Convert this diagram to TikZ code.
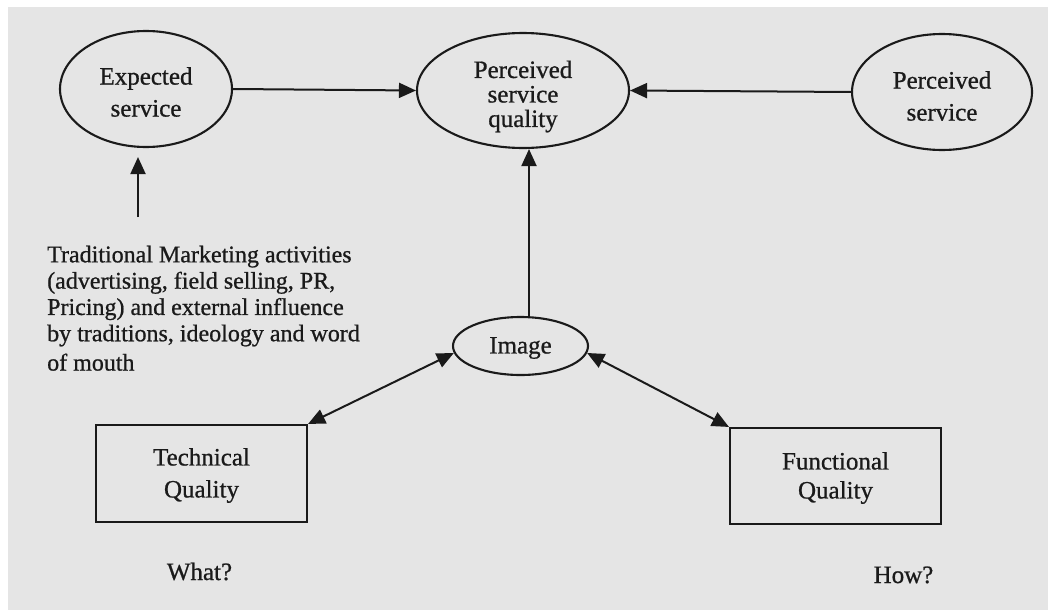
\documentclass[tikz,border=0pt]{standalone}
\usepackage{fontspec}
\setmainfont{Liberation Serif}[FakeBold=0.8]
\usetikzlibrary{shapes.geometric,arrows.meta,calc}
\definecolor{ink}{HTML}{1A1A1A}
\definecolor{paper}{HTML}{E5E5E5}
\begin{document}
\begin{tikzpicture}[x=1pt,y=-1pt,
  every node/.style={inner sep=0pt, text=ink},
  lbl/.style={font=\fontsize{25}{32}\selectfont, align=center},
  oval/.style={draw=ink, line width=2.1pt, ellipse},
  box/.style={draw=ink, line width=2.1pt, rectangle},
  arr/.style={draw=ink, line width=2pt, -{Triangle[length=17pt,width=15pt]}},
  darr/.style={draw=ink, line width=2pt, {Triangle[length=17pt,width=15pt]}-{Triangle[length=17pt,width=15pt]}}
]
% page and grey panel
\useasboundingbox (0,0) rectangle (1048,610);
\fill[white] (0,0) rectangle (1048,610);
\fill[paper] (8,7) rectangle (1048,610);

% top row
\node[oval, minimum width=172pt, minimum height=116pt] (exp) at (146,89) {};
\node[oval, minimum width=212pt, minimum height=115pt] (psq) at (523,90.5) {};
\node[oval, minimum width=180pt, minimum height=116pt] (ps) at (942,92) {};
\node[lbl] (expt) at ($(exp)+(0,3)$) {Expected\\service};
\node[lbl, font=\fontsize{25}{24.5}\selectfont] (psqt) at ($(psq)+(0,6)$) {Perceived\\service\\quality};
\node[lbl] (pst) at ($(ps)+(0,4)$) {Perceived\\service};

% image and the two quality dimensions
\node[oval, minimum width=135pt, minimum height=58pt] (img) at (520.5,346) {};
\node[lbl] (imgt) at ($(img)+(0,2)$) {Image};
\node[box, minimum width=211pt, minimum height=97pt] (tech) at (201.5,473.5) {};
\node[lbl] (techt) at ($(tech)+(0,2)$) {Technical\\Quality};
\node[box, minimum width=211pt, minimum height=96pt] (func) at (835.5,476) {};
\node[lbl, font=\fontsize{25}{29}\selectfont] (funct) at ($(func)+(0,2)$) {Functional\\Quality};

% marketing influences
\node[anchor=north west, align=left, font=\fontsize{24}{26.3}\selectfont] (mkt) at (47,245.5)
  {Traditional Marketing activities\\(advertising, field selling, PR,\\Pricing) and external influence\\by traditions, ideology and word\\[3pt]of mouth};

% questions
\node[lbl, anchor=base] (what) at (199.5,580) {What?};
\node[lbl, anchor=base] (how) at (903.5,583) {How?};

% connectors
\draw[arr] (exp.east) -- (psq.west);
\draw[arr] (ps.west) -- (psq.east);
\coordinate (vx) at (529,0);
\draw[arr] (img.north -| vx) -- (psq.south -| vx);
\coordinate (up) at (138,217);
\draw[arr, shorten >=9pt] (up) -- (up |- exp.south);
\draw[darr] (tech.north east) -- (img.186);
\draw[darr] (func.north west) -- (img.354);
\end{tikzpicture}
\end{document}
